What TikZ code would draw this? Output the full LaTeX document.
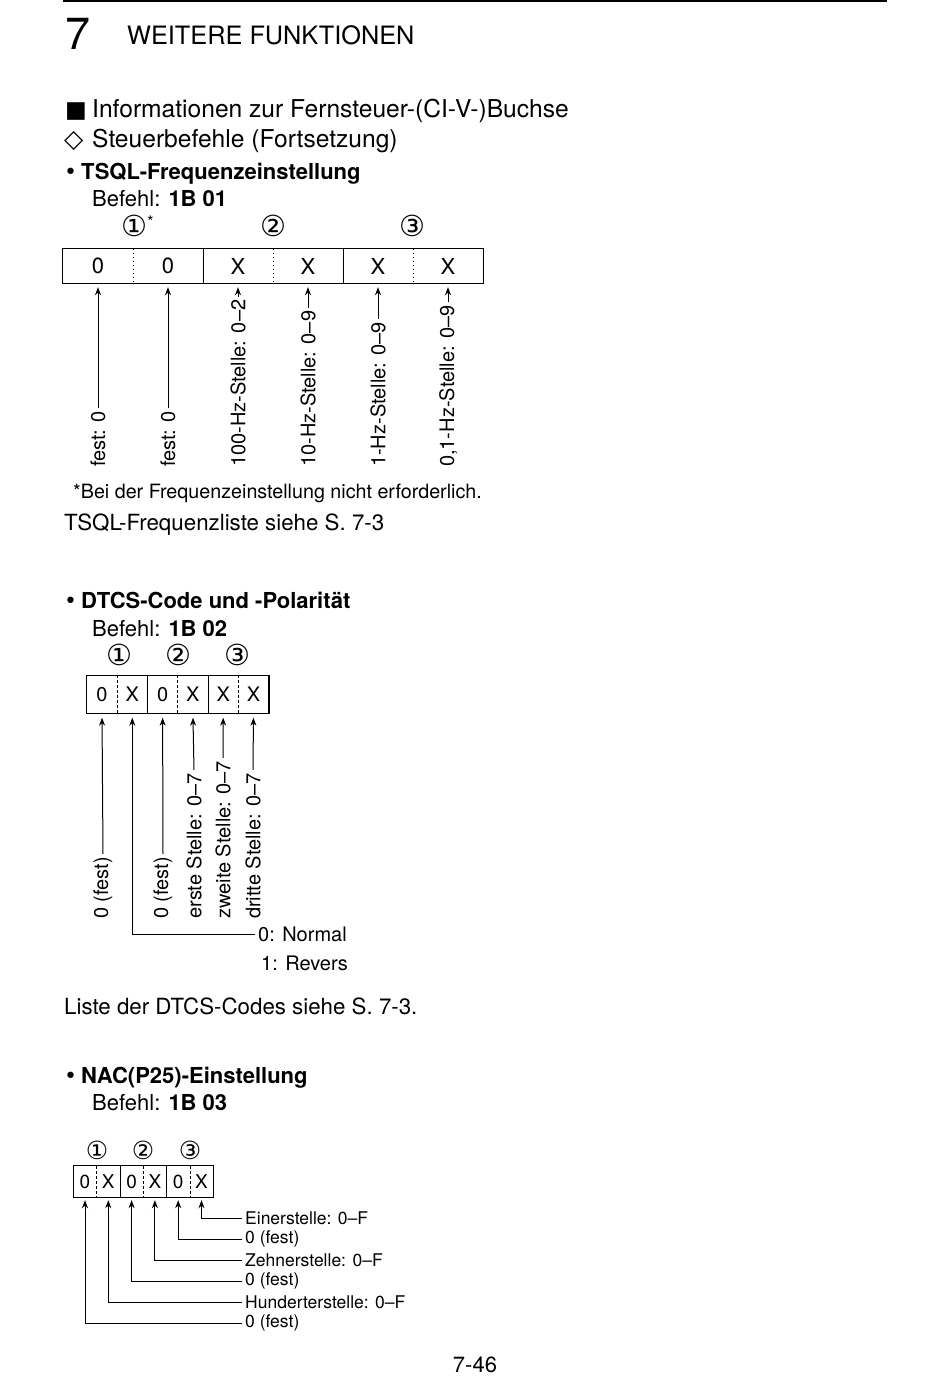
\documentclass[tikz,border=0pt]{standalone}
\usepackage{fontspec}
\setmainfont{TeX Gyre Heros}
\newfontfamily\symfont{DejaVu Sans}
\usetikzlibrary{arrows.meta, positioning}
\newcommand{\fs}[1]{\fontsize{#1}{#1}\selectfont}
\tikzset{
    txt/.style={anchor=base west, inner sep=0pt, font=\fs{22}},
    circ/.style={inner sep=0pt, font=\symfont\fs{29}},
    cell/.style={inner sep=0pt, minimum height=34pt, minimum width=70pt, font=\fs{22}},
    dcell/.style={cell, minimum height=38pt, minimum width=30.3pt, font=\fs{20}},
    ncell/.style={cell, minimum height=31pt, minimum width=23.3pt, font=\fs{19}},
    frame/.style={line width=1.3pt},
    dots/.style={line width=1.4pt, dash pattern=on 1.5pt off 2.5pt},
    dashsep/.style={line width=1pt, dash pattern=on 3pt off 2pt},
    arr/.style={-{Stealth[length=8pt,width=6pt]}, line width=1pt, shorten >=4pt},
    vlab/.style={rotate=90, anchor=west, inner sep=3pt, font=\fs{20}},
    hlab/.style={anchor=west, inner sep=3pt, font=\fs{17.5}}
}
\begin{document}
\begin{tikzpicture}[x=1pt, y=-1pt]
    \useasboundingbox (0,0) rectangle (950,1383);

    % page header
    \draw[line width=2.5pt] (63,1) -- (887,1);
    \node (chap) [txt, font=\fs{45}] at (65,50) {7};
    \node (title) [txt, font=\fs{25.3}] at (127,45) {WEITERE FUNKTIONEN};
    \node (sec) [txt, font=\fs{24.6}] at (65,118) {\makebox[27pt][l]{\symfont\fs{23}■}Informationen zur Fernsteuer-(CI-V-)Buchse};
    \node (sub) [txt, font=\fs{24.6}] at (64,148) {\makebox[28pt][l]{\symfont\fs{25}◇}Steuerbefehle (Fortsetzung)};

    % TSQL
    \node (tsql) [txt] at (64,180) {\makebox[17pt][l]{\symfont\fs{22}•}\textbf{TSQL-Frequenzeinstellung}};
    \node (cmd1) [txt] at (92,206) {Befehl: \textbf{1B 01}};
    \node (b1) [circ] at (134,226) {①};
    \node (star) [circ, font=\fs{16}, right=0pt of b1, yshift=4pt] {*};
    \node (b2) [circ] at (273,226) {②};
    \node (b3) [circ] at (412,226) {③};

    \node (a1) [cell] at (98,266) {0};
    \node (a2) [cell] at (168,266) {0};
    \node (a3) [cell] at (238,266) {X};
    \node (a4) [cell] at (308,266) {X};
    \node (a5) [cell] at (378,266) {X};
    \node (a6) [cell] at (448,266) {X};
    \draw[frame] (a1.north west) rectangle (a6.south east);
    \draw[frame] (a2.north east) -- (a2.south east);
    \draw[frame] (a4.north east) -- (a4.south east);
    \draw[dots] (a1.north east) -- (a1.south east);
    \draw[dots] (a3.north east) -- (a3.south east);
    \draw[dots] (a5.north east) -- (a5.south east);

    \node (t1) [vlab] at (98,470) {fest: 0};
    \node (t2) [vlab] at (168,470) {fest: 0};
    \node (t3) [vlab] at (238,470) {100-Hz-Stelle: 0–2};
    \node (t4) [vlab] at (308,470) {10-Hz-Stelle: 0–9};
    \node (t5) [vlab] at (378,470) {1-Hz-Stelle: 0–9};
    \node (t6) [vlab] at (448,470) {0,1-Hz-Stelle: 0–9};
    \draw[arr] (t1.east) -- (a1.south);
    \draw[arr] (t2.east) -- (a2.south);
    \draw[arr] (t3.east) -- (a3.south);
    \draw[arr] (t4.east) -- (a4.south);
    \draw[arr] (t5.east) -- (a5.south);
    \draw[arr] (t6.east) -- (a6.south);

    \node (note) [txt, font=\fs{19.7}] at (73,498) {*Bei der Frequenzeinstellung nicht erforderlich.};
    \node (ref1) [txt, font=\fs{22.3}] at (64,530) {TSQL-Frequenzliste siehe S. 7-3};

    % DTCS
    \node (dtcs) [txt] at (64,608) {\makebox[17pt][l]{\symfont\fs{22}•}\textbf{DTCS-Code und -Polarität}};
    \node (cmd2) [txt] at (92,636) {Befehl: \textbf{1B 02}};
    \node (e1) [circ] at (119,655) {①};
    \node (e2) [circ] at (178,655) {②};
    \node (e3) [circ] at (237,655) {③};

    \node (d1) [dcell] at (102,694.5) {0};
    \node (d2) [dcell] at (132.3,694.5) {X};
    \node (d3) [dcell] at (162.6,694.5) {0};
    \node (d4) [dcell] at (192.9,694.5) {X};
    \node (d5) [dcell] at (223.2,694.5) {X};
    \node (d6) [dcell] at (253.5,694.5) {X};
    \draw[frame] (d1.north west) rectangle (d6.south east);
    \draw[frame] (d2.north east) -- (d2.south east);
    \draw[frame] (d4.north east) -- (d4.south east);
    \draw[dashsep] (d1.north east) -- (d1.south east);
    \draw[dashsep] (d3.north east) -- (d3.south east);
    \draw[dashsep] (d5.north east) -- (d5.south east);

    \node (u1) [vlab] at (103,922) {0 (fest)};
    \node (u3) [vlab] at (163,922) {0 (fest)};
    \node (u4) [vlab] at (194,922) {erste Stelle: 0–7};
    \node (u5) [vlab] at (223,922) {zweite Stelle: 0–7};
    \node (u6) [vlab] at (253,922) {dritte Stelle: 0–7};
    \node (pol0) [hlab, font=\fs{20}] at (255,934) {0: Normal};
    \node (pol1) [txt, font=\fs{20}] at (261,970) {1: Revers};
    \draw[arr] (u1.east) -- (d1.south);
    \draw[arr] (pol0.west) -| (d2.south);
    \draw[arr] (u3.east) -- (d3.south);
    \draw[arr] (u4.east) -- (d4.south);
    \draw[arr] (u5.east) -- (d5.south);
    \draw[arr] (u6.east) -- (d6.south);

    \node (ref2) [txt, font=\fs{22.3}] at (64,1014) {Liste der DTCS-Codes siehe S. 7-3.};

    % NAC
    \node (nac) [txt] at (64,1083) {\makebox[17pt][l]{\symfont\fs{22}•}\textbf{NAC(P25)-Einstellung}};
    \node (cmd3) [txt] at (92,1110) {Befehl: \textbf{1B 03}};
    \node (f1) [circ, font=\symfont\fs{25}] at (97,1150) {①};
    \node (f2) [circ, font=\symfont\fs{25}] at (143,1150) {②};
    \node (f3) [circ, font=\symfont\fs{25}] at (190,1150) {③};

    \node (n1) [ncell] at (85,1181.5) {0};
    \node (n2) [ncell] at (108.3,1181.5) {X};
    \node (n3) [ncell] at (131.6,1181.5) {0};
    \node (n4) [ncell] at (154.9,1181.5) {X};
    \node (n5) [ncell] at (178.2,1181.5) {0};
    \node (n6) [ncell] at (201.5,1181.5) {X};
    \draw[frame] (n1.north west) rectangle (n6.south east);
    \draw[frame] (n2.north east) -- (n2.south east);
    \draw[frame] (n4.north east) -- (n4.south east);
    \draw[dashsep] (n1.north east) -- (n1.south east);
    \draw[dashsep] (n3.north east) -- (n3.south east);
    \draw[dashsep] (n5.north east) -- (n5.south east);

    \node (v6) [hlab] at (242,1218) {Einerstelle: 0–F};
    \node (v5) [hlab] at (242,1239) {0 (fest)};
    \node (v4) [hlab] at (242,1260) {Zehnerstelle: 0–F};
    \node (v3) [hlab] at (242,1281) {0 (fest)};
    \node (v2) [hlab] at (242,1302) {Hunderterstelle: 0–F};
    \node (v1) [hlab] at (242,1323) {0 (fest)};
    \draw[arr, shorten >=3pt] (v6.west) -| (n6.south);
    \draw[arr, shorten >=3pt] (v5.west) -| (n5.south);
    \draw[arr, shorten >=3pt] (v4.west) -| (n4.south);
    \draw[arr, shorten >=3pt] (v3.west) -| (n3.south);
    \draw[arr, shorten >=3pt] (v2.west) -| (n2.south);
    \draw[arr, shorten >=3pt] (v1.west) -| (n1.south);

    \node (page) [txt, anchor=base] at (475,1372) {7-46};
\end{tikzpicture}
\end{document}
